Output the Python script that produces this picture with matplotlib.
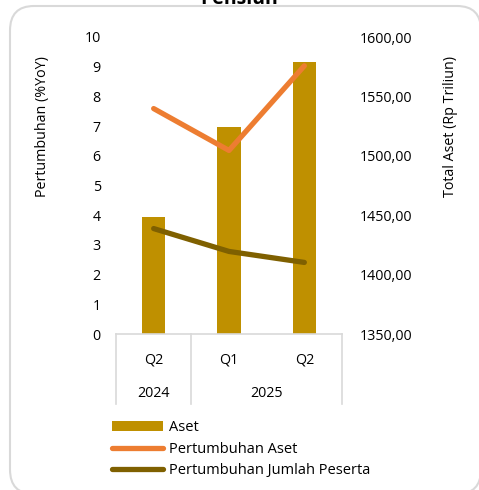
import matplotlib
matplotlib.use("Agg")
import matplotlib.pyplot as plt
from matplotlib.patches import FancyBboxPatch
from matplotlib.ticker import FuncFormatter

plt.rcParams['font.family'] = ['Open Sans', 'DejaVu Sans']

# data
quarters = ['Q2', 'Q1', 'Q2']
years = ['2024', '2025']
year_span = [(0, 0), (1, 2)]
aset = [1448.2, 1524.5, 1578.8]            # Rp Triliun (right axis)
tumbuh_aset = [7.59, 6.18, 9.03]           # %YoY
tumbuh_peserta = [3.55, 2.78, 2.41]        # %YoY

c_bar = '#bf9000'
c_orange = '#ed7d31'
c_dark = '#7f6000'
c_grid = '#d9d9d9'

fig = plt.figure(figsize=(4.79, 4.90), dpi=100)

# rounded frame
frame = FancyBboxPatch((10 / 479, -4 / 490), 471 / 479, 488 / 490,
                       boxstyle="round,pad=0,rounding_size=0.05",
                       transform=fig.transFigure, fc='white', ec=c_grid, lw=1.5,
                       zorder=-5)
fig.patches.append(frame)

fig.text(0.5, 1 - 4 / 490, 'Pensiun', ha='center', va='baseline',
         fontsize=14, fontweight='bold')

ax = fig.add_axes([116 / 479, (490 - 334) / 490, 226 / 479, 297 / 490])
axr = ax.twinx()
ax.set_zorder(axr.get_zorder() + 1)
ax.patch.set_visible(False)
axr.patch.set_visible(False)

x = list(range(len(quarters)))
bars = axr.bar(x, aset, width=0.31, color=c_bar, label='Aset')
l1, = ax.plot(x, tumbuh_aset, color=c_orange, lw=3.8, solid_capstyle='round',
              label='Pertumbuhan Aset')
l2, = ax.plot(x, tumbuh_peserta, color=c_dark, lw=3.8, solid_capstyle='round',
              label='Pertumbuhan Jumlah Peserta')

ax.set_xlim(-0.5, 2.5)
ax.set_ylim(0, 10)
ax.set_yticks(range(0, 11))
axr.set_ylim(1350, 1600)
axr.set_yticks(range(1350, 1601, 50))
axr.yaxis.set_major_formatter(FuncFormatter(lambda v, p: f'{v:.2f}'.replace('.', ',')))

for a in (ax, axr):
    for s in a.spines.values():
        s.set_visible(False)
    a.tick_params(length=0, labelsize=10.3, colors='black')
ax.tick_params(axis='y', pad=11)
axr.tick_params(axis='y', pad=13)

ax.spines['bottom'].set_visible(True)
ax.spines['bottom'].set_color(c_grid)
ax.spines['bottom'].set_linewidth(1.2)

ax.set_xticks(x)
ax.set_xticklabels(quarters)
ax.tick_params(axis='x', pad=13)

# category separators
for bx in (-0.5, 0.5, 2.5):
    ax.axvline(bx, ymin=-0.236, ymax=0, color=c_grid, lw=1.2, clip_on=False)
for yr, (a0, a1) in zip(years, year_span):
    ax.text((a0 + a1) / 2, -0.199, yr, transform=ax.get_xaxis_transform(),
            ha='center', va='center', fontsize=10.3)

ax.set_ylabel('Pertumbuhan (%YoY)', fontsize=10.3, va='center')
axr.set_ylabel('Total Aset (Rp Triliun)', fontsize=10.3, va='center')
ax.yaxis.set_label_coords(-0.327, 0.697)
axr.yaxis.set_label_coords(1.478, 0.697)

fig.legend(handles=[bars, l1, l2], loc='upper left',
           bbox_to_anchor=(99 / 479, 1 - 407 / 490), frameon=False,
           fontsize=10.5, handlelength=3.5, handletextpad=0.4, labelspacing=0.45)

fig.savefig('out.png', dpi=100)
